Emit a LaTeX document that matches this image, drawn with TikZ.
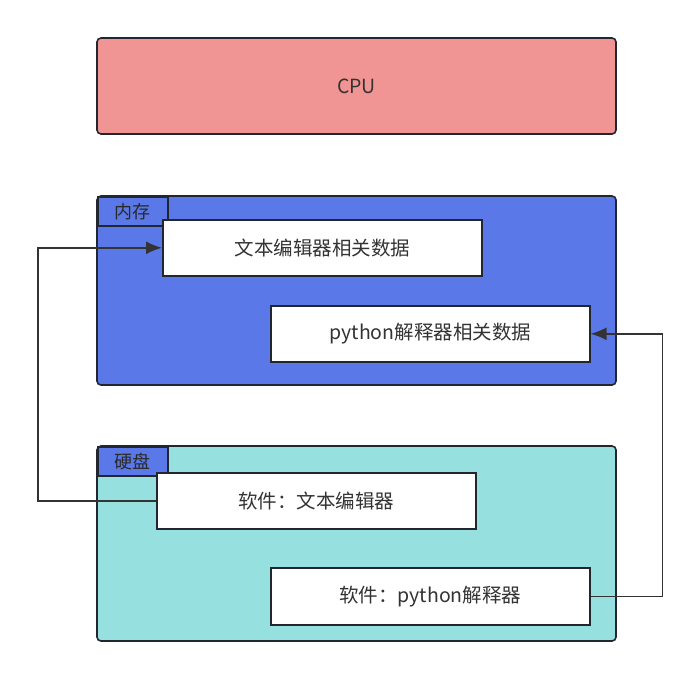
\documentclass[tikz,border=0pt]{standalone}
\usepackage{fontspec}
\setmainfont{Noto Sans CJK SC}
\usetikzlibrary{arrows.meta}
\definecolor{cpured}{HTML}{F19594}
\definecolor{memblue}{HTML}{5A78E8}
\definecolor{diskcyan}{HTML}{96E0E0}
\definecolor{edge}{HTML}{22262E}
\definecolor{ink}{HTML}{333333}
\tikzset{
  bigbox/.style={draw=edge, line width=1.6pt, rounded corners=4pt, inner sep=0pt,
    minimum width=519pt},
  tabbox/.style={draw=edge, line width=1.6pt, fill=memblue, inner sep=0pt,
    minimum width=70pt, minimum height=29pt, anchor=north west,
    font=\fontsize{18}{20}\selectfont, text=ink!80!black},
  databox/.style={draw=edge, line width=1.6pt, fill=white, inner sep=0pt,
    minimum width=319pt, minimum height=56pt, anchor=north west,
    font=\fontsize{19.5}{22}\selectfont, text=ink},
  link/.style={draw=ink, line width=1.6pt, -{Latex[length=16pt,width=13pt]}}
}
\begin{document}
\begin{tikzpicture}[x=1pt,y=-1pt]
\useasboundingbox (0,0) rectangle (698,680);

% the three layers
\node[bigbox, fill=cpured, minimum height=96pt, font=\fontsize{19.5}{22}\selectfont,
  text=ink] (cpu) at (356.5,86) {CPU};
\node[bigbox, fill=memblue, minimum height=189pt] (mem) at (356.5,290.5) {};
\node[bigbox, fill=diskcyan, minimum height=195pt] (disk) at (356.5,543.5) {};

\node[tabbox] (memtab) at (97,196) {内存};
\node[tabbox] (disktab) at (97,446) {硬盘};

% what lives in memory
\node[databox] (editordata) at (162,219) {文本编辑器相关数据};
\node[databox] (pydata) at (270,305) {python解释器相关数据};

% what lives on disk
\node[databox] (editor) at (156,472) {软件：文本编辑器};
\node[databox, minimum height=57pt] (pyexe) at (270,567) {软件：python解释器};

% loading programs into memory
\draw[link] (editor.west) -- ++(-118,0) |- (editordata.west);
\draw[link] (pyexe.east) -- ++(72,0) |- (pydata.east);
\end{tikzpicture}
\end{document}
